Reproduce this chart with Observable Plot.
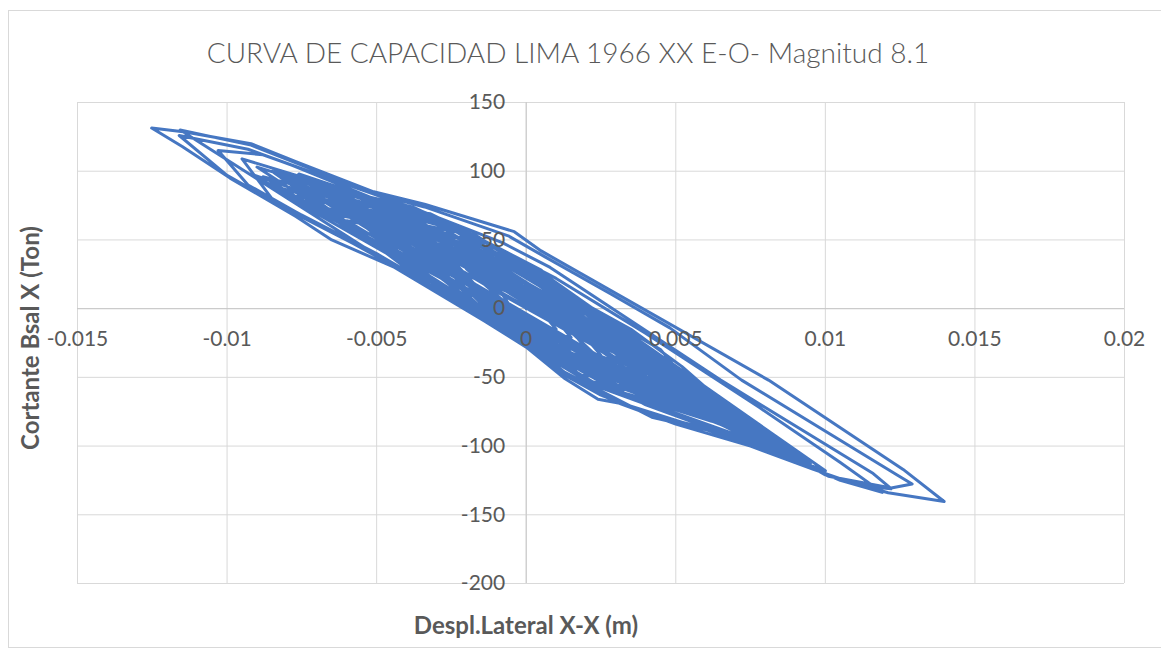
<!DOCTYPE html>
<html><head><meta charset="utf-8">
<script src="https://cdn.jsdelivr.net/npm/d3@7"></script>
<script src="https://cdn.jsdelivr.net/npm/@observablehq/plot@0.6"></script>
<style>
html,body{margin:0;padding:0;background:#fff;width:1161px;height:652px;overflow:hidden;}
#wrap{position:relative;width:1161px;height:652px;}
#frame{position:absolute;left:8px;top:10px;width:1170px;height:638px;border:1px solid #d9d9d9;box-sizing:border-box;}
#chart{position:absolute;left:0;top:0;}
#overlay{position:absolute;left:0;top:0;}
</style></head><body>
<div id="wrap">
<div id="frame"></div>
<div id="chart"></div>
<svg id="overlay" width="1161" height="652" font-family="Lato, 'Open Sans', sans-serif">
  <text x="568" y="63" text-anchor="middle" font-size="28" font-weight="300" fill="#595959">CURVA DE CAPACIDAD LIMA 1966 XX E-O- Magnitud 8.1</text>
  <text x="526" y="634" text-anchor="middle" font-size="24" font-weight="700" fill="#595959">Despl.Lateral X-X (m)</text>
  <text transform="translate(39,338) rotate(-90)" text-anchor="middle" font-size="24" font-weight="700" fill="#595959">Cortante Bsal X (Ton)</text>
</svg>
</div>
<script>
// Tick values and labels
const xTicks = [-0.015, -0.01, -0.005, 0, 0.005, 0.01, 0.015, 0.02];
const xTickLabels = ["-0.015", "-0.01", "-0.005", "0", "0.005", "0.01", "0.015", "0.02"];
const yTicks = [150, 100, 50, 0, -50, -100, -150, -200];
const yTickLabels = ["150", "100", "50", "0", "-50", "-100", "-150", "-200"];

// Lateral displacement (m), first part of the hysteresis path (drawing order)
const dispX = [
  0,
  0.0005, 0.001, 0.0015,
  0.0005, -0.0005, -0.0015,
  -0.0002, 0.0012, 0.0025,
  0.0008, -0.0008, -0.0025,
  -0.0005, 0.0015, 0.0035,
  0.0012, -0.0012, -0.0035,
  -0.0008, 0.0018, 0.0045,
  0.0015, -0.0015, -0.0045,
  -0.001, 0.0025, 0.006,
  0.002, -0.002, -0.006,
  -0.0017, 0.0027, 0.007,
  0.0022, -0.0027, -0.0075,
  -0.0022, 0.0032, 0.0085,
  0.0027, -0.0032, -0.009,
  -0.0028, 0.0033, 0.0095,
  0.0025, -0.0045, -0.01157,
  -0.0092, -0.0077, -0.0051, -0.0034, -0.0006, 0.0006, 0.0028, 0.0048, 0.0072, 0.0124, 0.0129,
  0.0122, 0.0101, 0.009, 0.0062, 0.0042, 0.0034, 0.0024, 0.0013, 0, -0.0014, -0.0044, -0.0065, -0.0077, -0.0099, -0.0115, -0.01252,
  -0.0114, -0.0092, -0.0077, -0.0051, -0.0034, -0.0004, 0.0005, 0.0081, 0.0126, 0.01397,
  0.0121, 0.01, 0.0088, 0.006, 0.004, 0.0025, 0.001, 0, -0.0015, -0.0045, -0.0078, -0.01, -0.0116,
  -0.0093, -0.0078, -0.0052, -0.0035, -0.0008, 0.0008, 0.0065, 0.0116, 0.0122,
  0.0112, 0.0096, 0.0075, 0.005, 0.003, 0.0015, 0, -0.002, -0.005, -0.0075, -0.0093, -0.0103,
  -0.0088, -0.0065, -0.004, -0.0015, 0.001, 0.004, 0.0078, 0.0105, 0.0119,
  0.0105, 0.0085, 0.006, 0.0035, 0.001, -0.001, -0.0035, -0.0065, -0.0085, -0.0095,
  -0.003, 0.0035, 0.01,
  0.004, -0.002, -0.008,
  -0.0023, 0.0033, 0.009,
  0.0034, -0.0023, -0.0079,
  -0.0026, 0.0027, 0.008,
  0.003, -0.002, -0.007,
  -0.0022, 0.0027, 0.0075,
  0.0028, -0.0018, -0.0065,
  -0.0022, 0.0022, 0.0065,
  0.0025, -0.0015, -0.0055,
  -0.0018, 0.0018, 0.0055,
  0.002, -0.0015, -0.005,
  -0.0017, 0.0017, 0.005,
  0.002, -0.001, -0.004,
  -0.0013, 0.0013, 0.004,
  0.0017, -0.0007, -0.003,
  -0.001, 0.001, 0.003,
  0.0013, -0.0003, -0.002,
  -0.0007, 0.0007, 0.002,
  0.001, 0, -0.001,
  -0.0003, 0.0003, 0.001,
  0.0005, 0
];

// Base shear (Ton), first part, same order
const shearY = [
  0,
  -1, -8, -21,
  -16.7, -3.4, 23,
  22, -1, -34,
  -25, -4, 36,
  31, 0, -44,
  -35, -3, 47,
  40, 0, -55,
  -43, -3, 57,
  44, -8, -73,
  -52, 1.5, 72,
  53, -9, -84,
  -55, 9, 87,
  51.5, -20, -101,
  -52.6, 20.8, 103,
  62, -18.5, -113,
  -57.7, 32, 130,
  119, 106, 84, 74, 53, 38, 11, -14, -52, -121, -127.6,
  -130.5, -122, -109, -89, -79, -70, -66, -51, -28, -9, 30, 50, 67, 95, 118, 131.4,
  128.5, 120, 107, 85, 76, 56, 42, -52, -117, -140.3,
  -134, -121, -106, -87, -76, -63, -45, -25, -5, 33, 70, 97, 126,
  116, 104, 81, 71, 48, 30, -52, -120, -131,
  -129, -117, -100, -84, -68, -50, -24, 2, 40, 68, 90, 115,
  112, 94, 75, 50, 22, -18, -72, -112, -133.7,
  -125, -106, -88, -71, -43, -12, 20, 56, 80, 109,
  66, -19, -118,
  -70, 1.4, 94,
  48, -24, -106,
  -57, 11, 88,
  42, -23.5, -95,
  -45.5, 14.6, 82,
  36, -25.5, -90,
  -41, 15, 77,
  32, -22, -79,
  -36, 13, 67,
  44, -5.5, -67,
  -47, -1, 62,
  38, -8, -61,
  -38.7, 0.5, 53,
  44.5, 5.4, -49,
  -44, -12, 42,
  26.6, -2.8, -39,
  -24.6, -3, 29,
  29.5, 5.6, -29,
  -30, -16, 17,
  13.5, 3.3, -15,
  -14, -6
];

// Lateral displacement (m), later part of the record (continues the same path)
const dispXLate = [
  -0.0028, -0.0057, -0.0085,
  -0.0035, 0.0015, 0.0065,
  0.0021, -0.0024, -0.0068,
  -0.0019, 0.0031, 0.008,
  0.0026, -0.0026, -0.0082,
  -0.0035, 0.0011, 0.0058,
  0.0018, -0.0022, -0.0062,
  -0.0017, 0.0027, 0.0072,
  0.0024, -0.0024, -0.0072,
  -0.0032, 0.0008, 0.0048,
  0.0016, -0.0016, -0.0048,
  -0.0011, 0.0025, 0.0062,
  0.0024, -0.0014, -0.0052,
  -0.0005, 0.0041, 0.0088,
  0.0029, -0.003, -0.0088,
  -0.0033, 0.0023, 0.0078,
  0.0032, -0.0014, -0.006,
  -0.0023, 0.0015, 0.0052,
  0.0009, -0.0035, -0.0078,
  -0.0021, 0.0035, 0.0092,
  0.0031, -0.0031, -0.0092,
  -0.0039, 0.0015, 0.0068,
  0.0026, -0.0016, -0.0058,
  -0.0025, 0.0009, 0.0042,
  0.0014, -0.0014, -0.0042,
  -0.0015, 0.0011, 0.0038,
  0.0013, -0.0013, -0.0038,
  -0.0007, 0.0024, 0.0055,
  0.0013, -0.0028, -0.007,
  -0.0021, 0.0029, 0.0078,
  0.003, -0.0017, -0.0065,
  -0.0033, 0, 0.0032,
  0.0011, -0.0011, -0.0032,
  -0.0001, 0.0029, 0.006,
  0.0027, -0.0007, -0.004,
  -0.0003, 0.0033, 0.007,
  0.0018, -0.0034, -0.0086,
  -0.0029, 0.0029, 0.0086,
  0.0032, -0.0022, -0.0076,
  -0.0026, 0.0024, 0.0074,
  0.0031, -0.0011, -0.0054,
  -0.0021, 0.0012, 0.0045,
  0.0015, -0.0016, -0.0046,
  -0.0009, 0.0029, 0.0066,
  0.0022, -0.0022, -0.0066,
  -0.0027, 0.0011, 0.005,
  0.0017, -0.0017, -0.005,
  -0.0008, 0.0034, 0.0076,
  0.0023, -0.0031, -0.0084,
  -0.0028, 0.0028, 0.0084,
  0.0031, -0.0021, -0.0074,
  -0.0035, 0
];

// Base shear (Ton), later part, same order
const shearYLate = [
  22, 57, 100,
  61.7, -1.1, -72,
  -34, 17.4, 70,
  50.6, -17.6, -98,
  -47.8, 14.6, 84,
  62.7, 5.3, -62,
  -20, 28, 80,
  53.6, -7.8, -80,
  -40.3, 18.8, 90,
  48.1, -4.8, -66,
  -41.2, 2.6, 68,
  34.8, -17.2, -82,
  -55.6, -6, 56,
  11, -42.7, -100,
  -51.1, 19.8, 96,
  65.2, -7.7, -88,
  -48.4, 4.5, 64,
  48.3, -1.3, -58,
  -35.8, 20.9, 92,
  38.3, -31.9, -110,
  -47, 25.1, 98,
  57.5, -9.3, -86,
  -53.2, 0.5, 74,
  60.6, 12.3, -58,
  -28, 11.2, 62,
  46.6, 9.2, -40,
  -38.5, -5.3, 40,
  13, -27.3, -72,
  -35.4, 17, 76,
  32.9, -29.5, -97,
  -41.6, 17.7, 84,
  59.3, 13.9, -52,
  -30.4, 2.6, 52,
  29.6, -11.1, -64,
  -47.2, -7.3, 45,
  18.5, -26.4, -78,
  -32.6, 29, 90,
  55.9, -19.4, -104,
  -62, 4.5, 98,
  61.5, -4.3, -84,
  -37.1, 13.7, 70,
  45, 1.9, -48,
  -36.2, 2.2, 50,
  38.4, -16.7, -84,
  -41.2, 15.4, 82,
  47.3, 0.5, -52,
  -48.3, -3.7, 54,
  28.7, -28.1, -96,
  -39.1, 28.6, 100,
  64.3, -10.7, -96,
  -56.4, 6.1, 78,
  52, 12
];

// Lateral displacement (m), final cycles of the record
const dispXTail = [
  0.0022, 0.0046, 0.0068,
  0.0042, 0.0012, -0.0015, -0.004,
  -0.0035, -0.002, -0.0005, 0.0015, 0.0035, 0.0052, 0.0075,
  0.005, 0.003, 0.0005, -0.0055,
  -0.0045, -0.003, -0.0012, 0.0006, 0.0025, 0.0045, 0.0062,
  0.0048, 0.0035, 0.002, 0, -0.003,
  -0.0025, -0.001, 0.0005, 0.002, 0.0035, 0.0055,
  0.004, 0.0025, 0.0005, -0.0062,
  -0.005, -0.0038, -0.0025, -0.001, 0.0005, 0.0045,
  0.003, 0.001, -0.001, -0.0045,
  -0.0032, -0.0018, 0, 0.0018, 0.005,
  0.0038, 0.0022, 0.0003, -0.0015
];

// Base shear (Ton), final cycles, same order
const shearYTail = [
  -14, -44, -80,
  -62, -36, 10, 70,
  71, 56, 39, 9, -15, -42, -86,
  -66, -52, -20, 80,
  78, 66, 47, 25, -4, -30, -74,
  -70, -58, -40, -12, 55,
  60, 44, 20, 0, -20, -62,
  -55, -42, -16, 86,
  80, 74, 61, 45, 28, -52,
  -45, -28, -2, 72,
  69, 54, 30, 2, -56,
  -52, -38, -12, 15
];

const allX = dispX.concat(dispXLate, dispXTail);
const allY = shearY.concat(shearYLate, shearYTail);
const n = Math.min(allX.length, allY.length);
const path = d3.range(n).map(i => ({x: allX[i], y: allY[i]}));
const xTickData = xTicks.map((v, i) => ({v, label: xTickLabels[i]}));
const yTickData = yTicks.map((v, i) => ({v, label: yTickLabels[i]}));

const chart = Plot.plot({
  width: 1161,
  height: 652,
  marginLeft: 77,
  marginRight: 37,
  marginTop: 102,
  marginBottom: 69,
  x: {domain: [-0.015, 0.02], axis: null},
  y: {domain: [-200, 150], axis: null},
  style: {background: "transparent", fontFamily: "Lato, 'Open Sans', sans-serif"},
  marks: [
    Plot.ruleX(xTicks, {x: d => d, stroke: "#d9d9d9", strokeWidth: 1, strokeOpacity: 1}),
    Plot.ruleY(yTicks, {y: d => d, stroke: "#d9d9d9", strokeWidth: 1, strokeOpacity: 1}),
    Plot.ruleX([0], {x: d => d, stroke: "#c8c8c8", strokeWidth: 1}),
    Plot.ruleY([0], {y: d => d, stroke: "#c8c8c8", strokeWidth: 1}),
    Plot.line(path, {x: "x", y: "y", stroke: "#4677c2", strokeWidth: 3, strokeLinejoin: "round", strokeLinecap: "round", curve: "linear"}),
    Plot.text(xTickData, {x: "v", y: () => 0, text: "label", dy: 31, fontSize: 21, fill: "#595959", textAnchor: "middle"}),
    Plot.text(yTickData, {x: () => 0, y: "v", text: "label", dx: -21, fontSize: 21, fill: "#595959", textAnchor: "end"})
  ]
});
document.getElementById("chart").appendChild(chart);
</script>
</body></html>
